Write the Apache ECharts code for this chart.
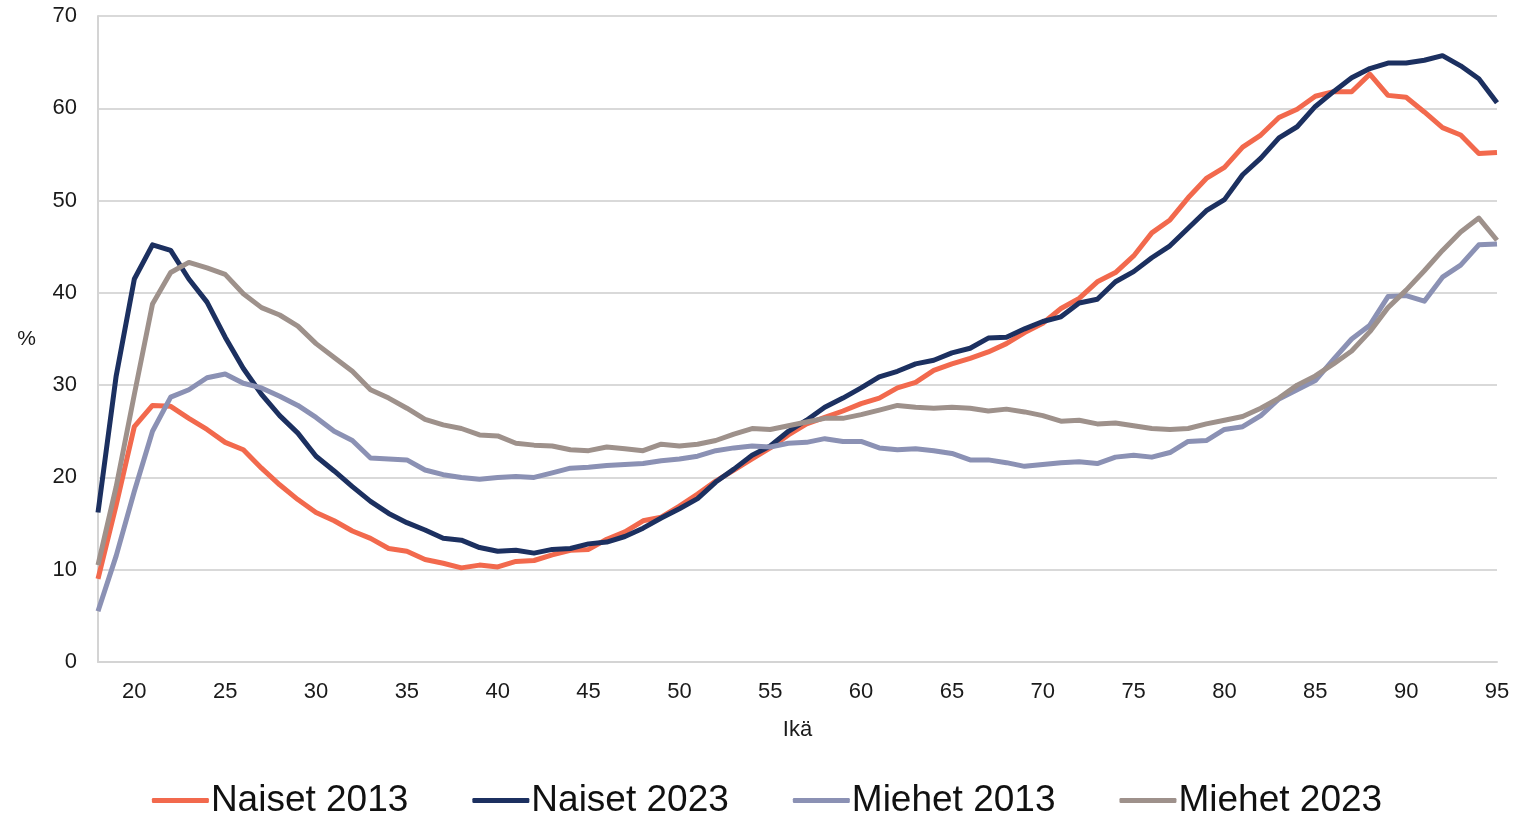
<!DOCTYPE html>
<html>
<head>
<meta charset="utf-8">
<script src="https://cdn.jsdelivr.net/npm/echarts@6/dist/echarts.min.js"></script>
<style>
  html, body { margin: 0; padding: 0; background: #fff; }
  #chart { width: 1534px; height: 815px; }
</style>
</head>
<body>
<div id="chart"></div>
<script>
// Iät 18–95
const ages = [];
for (let a = 18; a <= 95; a++) ages.push(String(a));

const naiset2013 = [
  9.0, 17.0, 25.5, 27.8, 27.7, 26.4, 25.2, 23.8, 23.0, 21.0,
  19.2, 17.6, 16.2, 15.3, 14.2, 13.4, 12.3, 12.0, 11.1, 10.7,
  10.2, 10.5, 10.3, 10.9, 11.0, 11.6, 12.1, 12.2, 13.3, 14.1,
  15.3, 15.7, 16.9, 18.2, 19.6, 20.8, 22.0, 23.2, 24.6, 25.8,
  26.5, 27.2, 28.0, 28.6, 29.7, 30.3, 31.6, 32.3, 32.9, 33.6,
  34.5, 35.7, 36.7, 38.3, 39.4, 41.2, 42.2, 44.0, 46.5, 47.9,
  50.3, 52.4, 53.6, 55.8, 57.1, 59.0, 59.9, 61.3, 61.8, 61.8,
  63.7, 61.4, 61.2, 59.6, 57.9, 57.1, 55.1, 55.2
];

const naiset2023 = [
  16.2, 31.0, 41.5, 45.2, 44.6, 41.5, 39.0, 35.2, 31.8, 29.0,
  26.7, 24.8, 22.3, 20.7, 19.0, 17.4, 16.1, 15.1, 14.3, 13.4,
  13.2, 12.4, 12.0, 12.1, 11.8, 12.2, 12.3, 12.8, 13.0, 13.6,
  14.5, 15.6, 16.6, 17.7, 19.5, 20.9, 22.4, 23.4, 25.0, 26.2,
  27.6, 28.6, 29.7, 30.9, 31.5, 32.3, 32.7, 33.5, 34.0, 35.1,
  35.2, 36.1, 36.9, 37.4, 38.9, 39.3, 41.2, 42.3, 43.8, 45.1,
  47.0, 48.9, 50.1, 52.8, 54.6, 56.8, 58.0, 60.2, 61.8, 63.3,
  64.3, 64.9, 64.9, 65.2, 65.7, 64.6, 63.2, 60.6
];

const miehet2013 = [
  5.5, 11.5, 18.5, 25.0, 28.7, 29.5, 30.8, 31.2, 30.2, 29.7,
  28.8, 27.8, 26.5, 25.0, 24.0, 22.1, 22.0, 21.9, 20.8, 20.3,
  20.0, 19.8, 20.0, 20.1, 20.0, 20.5, 21.0, 21.1, 21.3, 21.4,
  21.5, 21.8, 22.0, 22.3, 22.9, 23.2, 23.4, 23.3, 23.7, 23.8,
  24.2, 23.9, 23.9, 23.2, 23.0, 23.1, 22.9, 22.6, 21.9, 21.9,
  21.6, 21.2, 21.4, 21.6, 21.7, 21.5, 22.2, 22.4, 22.2, 22.7,
  23.9, 24.0, 25.2, 25.5, 26.7, 28.5, 29.5, 30.5, 32.8, 35.0,
  36.5, 39.6, 39.7, 39.1, 41.7, 43.0, 45.2, 45.3
];

const miehet2023 = [
  10.5, 19.0, 29.0, 38.8, 42.2, 43.3, 42.7, 42.0, 39.9, 38.4,
  37.6, 36.4, 34.5, 33.0, 31.5, 29.5, 28.6, 27.5, 26.3, 25.7,
  25.3, 24.6, 24.5, 23.7, 23.5, 23.4, 23.0, 22.9, 23.3, 23.1,
  22.9, 23.6, 23.4, 23.6, 24.0, 24.7, 25.3, 25.2, 25.6, 26.0,
  26.4, 26.4, 26.8, 27.3, 27.8, 27.6, 27.5, 27.6, 27.5, 27.2,
  27.4, 27.1, 26.7, 26.1, 26.2, 25.8, 25.9, 25.6, 25.3, 25.2,
  25.3, 25.8, 26.2, 26.6, 27.5, 28.6, 30.0, 31.0, 32.3, 33.7,
  35.8, 38.4, 40.3, 42.4, 44.6, 46.6, 48.1, 45.7
];

const font = '"Liberation Sans", Arial, sans-serif';

const chart = echarts.init(document.getElementById('chart'));

function lineSeries(name, data, color) {
  return {
    name: name,
    type: 'line',
    data: data,
    symbol: 'none',
    color: color,
    lineStyle: { width: 5, color: color, join: 'round' },
    emphasis: { disabled: true }
  };
}

chart.setOption({
  animation: false,
  textStyle: { fontFamily: font },
  grid: { left: 98, right: 37, top: 16, bottom: 153 },
  xAxis: {
    type: 'category',
    data: ages,
    boundaryGap: false,
    name: 'Ikä',
    nameLocation: 'middle',
    nameGap: 57,
    nameTextStyle: { fontSize: 22, color: '#1a1a1a', fontFamily: font },
    axisLine: { show: true, lineStyle: { color: '#d4d4d4', width: 2 } },
    axisTick: { show: false },
    axisLabel: {
      interval: (idx, val) => Number(val) % 5 === 0,
      fontSize: 22,
      color: '#1a1a1a',
      margin: 19,
      fontFamily: font
    },
    splitLine: { show: false }
  },
  yAxis: {
    type: 'value',
    min: 0,
    max: 70,
    interval: 10,
    name: '%',
    nameLocation: 'middle',
    nameRotate: 0,
    nameGap: 62,
    nameTextStyle: { fontSize: 21, color: '#1a1a1a', fontFamily: font },
    axisLine: { show: true, lineStyle: { color: '#d4d4d4', width: 2 } },
    axisTick: { show: false },
    axisLabel: { fontSize: 22, color: '#1a1a1a', margin: 21, fontFamily: font },
    splitLine: { show: true, lineStyle: { color: '#d9d9d9', width: 2 } }
  },
  legend: {
    left: 'center',
    top: 777,
    icon: 'roundRect',
    itemWidth: 57,
    itemHeight: 5,
    itemGap: 64,
    textStyle: { fontSize: 37, color: '#111', fontFamily: font, padding: [0, 0, 0, -3] },
    data: ['Naiset 2013', 'Naiset 2023', 'Miehet 2013', 'Miehet 2023']
  },
  series: [
    lineSeries('Naiset 2013', naiset2013, '#f2694d'),
    lineSeries('Naiset 2023', naiset2023, '#1c3060'),
    lineSeries('Miehet 2013', miehet2013, '#8b91b4'),
    lineSeries('Miehet 2023', miehet2023, '#9e918b')
  ]
});
</script>
</body>
</html>
